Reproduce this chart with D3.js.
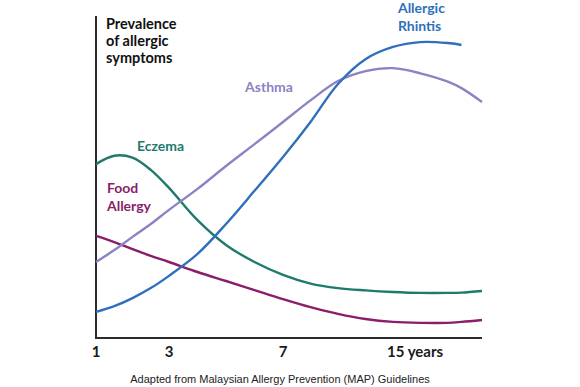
<!DOCTYPE html>
<html>
<head>
<meta charset="utf-8">
<script src="https://cdn.jsdelivr.net/npm/d3@7.9.0/dist/d3.min.js"></script>
<style>
  body { margin: 0; background: #fff; }
  svg { display: block; }
  .lbl { font-family: Lato, "Open Sans", sans-serif; font-weight: 700; }
</style>
</head>
<body>
<svg width="580" height="387"></svg>
<script>
const ages = [1, 1.5, 2, 2.5, 3, 4, 5, 6, 7, 9, 11, 13, 15, 17, 19, 20, 21.5];

// relative prevalence, 0 = baseline, 100 = top of axis
const eczema      = [54.0, 56.6, 56.0, 52.2, 46.6, 36.6, 28.9, 23.6, 19.6, 16.9, 15.5, 14.8, 14.3, 14.0, 14.0, 14.1, 14.6];
const asthma      = [23.6, 27.3, 31.4, 35.4, 39.8, 46.3, 53.4, 60.2, 67.1, 73.8, 79.8, 82.9, 83.8, 82.2, 79.6, 77.6, 73.3];
const rhinitis    = [8.1, 9.9, 12.4, 15.5, 19.3, 26.1, 35.4, 45.7, 56.2, 67.1, 78.9, 86.6, 90.4, 91.9, 91.6, 91.0, null];
const foodAllergy = [31.7, 29.8, 27.6, 25.5, 23.6, 20.5, 17.7, 14.9, 12.1, 9.6, 7.5, 5.9, 5.0, 4.7, 4.7, 5.0, 5.6];

const tickAges   = [1, 3, 7, 15];
const tickLabels = ['1', '3', '7', '15 years'];

const series = [
  { name: 'eczema',   values: eczema,      color: '#1e7a6c', label: ['Eczema'],              lx: 2.12,  ly: 58.1 },
  { name: 'food',     values: foodAllergy, color: '#8a1e6a', label: ['Food', 'Allergy'],     lx: 1.3,   ly: 45.0 },
  { name: 'asthma',   values: asthma,      color: '#8c82c4', label: ['Asthma'],              lx: 5.67,  ly: 76.4 },
  { name: 'rhinitis', values: rhinitis,    color: '#2f6fbc', label: ['Allergic', 'Rhintis'], lx: 15.36, ly: 100.9 }
];

const svg = d3.select('svg');

// the horizontal axis is not linear in years
const x = d3.scaleLinear()
  .domain([1, 3, 7, 15, 21.5])
  .range([96, 169, 283, 393, 482]);
const y = d3.scaleLinear().domain([0, 100]).range([338, 16]);

// axes
svg.append('line')
  .attr('x1', x(1)).attr('x2', x(1))
  .attr('y1', y(100)).attr('y2', y(0))
  .attr('stroke', '#2b2b2b').attr('stroke-width', 2);
svg.append('line')
  .attr('x1', x(1) - 1).attr('x2', x(21.5))
  .attr('y1', y(0)).attr('y2', y(0))
  .attr('stroke', '#2b2b2b').attr('stroke-width', 2);

tickAges.forEach((a, i) => {
  const last = i === tickAges.length - 1;
  svg.append('text')
    .attr('class', 'lbl')
    .attr('x', x(a))
    .attr('y', 357)
    .attr('text-anchor', last ? 'start' : 'middle')
    .attr('dx', last ? -6 : 0)
    .attr('font-size', 15)
    .attr('fill', '#1a1a1a')
    .text(tickLabels[i]);
});

// y axis title
['Prevalence', 'of allergic', 'symptoms'].forEach((t, i) => {
  svg.append('text')
    .attr('class', 'lbl')
    .attr('x', 106)
    .attr('y', 29 + i * 17)
    .attr('font-size', 14.5)
    .attr('fill', '#111')
    .text(t);
});

const line = d3.line()
  .defined(d => d[1] != null)
  .x(d => x(d[0]))
  .y(d => y(d[1]))
  .curve(d3.curveCatmullRom.alpha(0.5));

series.forEach(s => {
  svg.append('path')
    .datum(ages.map((a, i) => [a, s.values[i]]))
    .attr('d', line)
    .attr('fill', 'none')
    .attr('stroke', s.color)
    .attr('stroke-width', 2.4);

  s.label.forEach((t, i) => {
    svg.append('text')
      .attr('class', 'lbl')
      .attr('x', x(s.lx))
      .attr('y', y(s.ly) + i * 18)
      .attr('font-size', 14)
      .attr('fill', s.color)
      .text(t);
  });
});

svg.append('text')
  .attr('x', 280)
  .attr('y', 383)
  .attr('text-anchor', 'middle')
  .attr('font-family', '"Liberation Sans", Arial, sans-serif')
  .attr('font-size', 11)
  .attr('fill', '#222')
  .text('Adapted from Malaysian Allergy Prevention (MAP) Guidelines');
</script>
</body>
</html>
